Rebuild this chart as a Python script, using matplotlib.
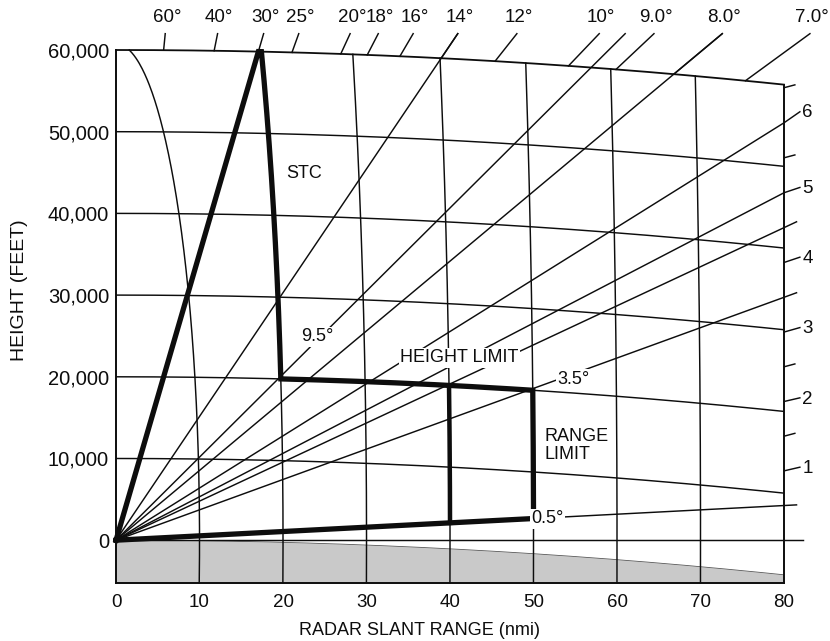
import numpy as np
import matplotlib.pyplot as plt

# ============================================
# DATA
# ============================================

NMI_FT = 6076.0                 # feet per nautical mile
EARTH_DROP = 0.6624             # ft per nmi^2 (4/3 earth curvature)

height_levels = [10000, 20000, 30000, 40000, 50000]
top_height = 60000
range_rings = [10, 20, 30, 40, 50, 60, 70]
max_range = 80

x_ticks = [0, 10, 20, 30, 40, 50, 60, 70, 80]
y_ticks = [0, 10000, 20000, 30000, 40000, 50000, 60000]
y_tick_labels = ["0", "10,000", "20,000", "30,000", "40,000", "50,000", "60,000"]

# elevation lines drawn from the radar
beam_angles = [0.0, 0.5, 3.5, 4.5, 5.0, 6.0, 8.0, 9.5, 14.0]

# elevation marks on the 60,000 ft curve
top_angles = [60, 40, 30, 25, 20, 18, 16, 14, 12, 10, 9, 8, 7]
top_labels = ["60°", "40°", "30°", "25°", "20°", "18°", "16°", "14°",
              "12°", "10°", "9.0°", "8.0°", "7.0°"]

# elevation marks on the 80 nmi edge
right_angles = [1, 2, 3, 4, 5, 6]
right_minor = [1.5, 2.5, 5.5, 6.5]

# coverage boundary
stc_angle = 30
stc_range = 20
height_limit = 20000
inner_range = 40
range_limit = 50
floor_angle = 0.5

# ============================================
# GEOMETRY HELPERS
# ============================================


def height_curve(x, h):
    return h - EARTH_DROP * x ** 2


def beam_y(x, ang):
    return x * NMI_FT * np.tan(np.radians(ang))


def beam_hits_height(ang, h):
    b = NMI_FT * np.tan(np.radians(ang))
    return (-b + np.sqrt(b * b + 4 * EARTH_DROP * h)) / (2 * EARTH_DROP)


def ring_hits_height(r, h):
    x = float(r)
    for _ in range(50):
        y = height_curve(x, h)
        x = np.sqrt(r ** 2 - (y / NMI_FT) ** 2)
    return x, height_curve(x, h)


def ring_points(r, y0, y1, n=200):
    ys = np.linspace(y0, y1, n)
    xs = np.sqrt(r ** 2 - (ys / NMI_FT) ** 2)
    return xs, ys


# ============================================
# FIGURE
# ============================================

plt.rcParams["font.family"] = ["Liberation Sans", "DejaVu Sans"]

fig = plt.figure(figsize=(8.3, 6.41), dpi=100)
ax = fig.add_axes([0.1398, 0.091, 0.8048, 0.831])

Y_LO = -5200
ax.set_xlim(0, max_range)
ax.set_ylim(Y_LO, top_height)

THIN = 1.05
THICK = 3.8
INK = "#0d0d0d"

# ground shading
xg = np.linspace(0, max_range, 300)
ground = -EARTH_DROP * xg ** 2
ax.fill_between(xg, Y_LO, ground, color="#c9c9c9", lw=0, zorder=1)
ax.plot(xg, ground, color="#555555", lw=0.6, zorder=2)

# constant height curves
xs = np.linspace(0, max_range, 300)
for h in height_levels:
    ax.plot(xs, height_curve(xs, h), color=INK, lw=THIN, zorder=3)
ax.plot(xs, height_curve(xs, top_height), color=INK, lw=1.3, zorder=3,
        clip_on=False)

# slant range rings
for r in range_rings:
    _, ytop = ring_hits_height(r, top_height)
    rx, ry = ring_points(r, Y_LO, ytop)
    ax.plot(rx, ry, color=INK, lw=THIN, zorder=3, clip_on=False)

# right edge (80 nmi)
ax.plot([max_range, max_range], [Y_LO, height_curve(max_range, top_height)],
        color=INK, lw=1.4, zorder=3, clip_on=False)

# elevation lines
LEADER_TOP = 62000
for ang in beam_angles:
    if ang == 0:
        x_end = 82.3
    elif ang < 4.8:
        x_end = 81.5
    else:
        x_end = min(max_range, LEADER_TOP / (NMI_FT * np.tan(np.radians(ang))))
    xl = np.array([0, x_end])
    ax.plot(xl, beam_y(xl, ang), color=INK, lw=THIN, zorder=3, clip_on=False)

# top elevation marks with labels
for ang, lab in zip(top_angles, top_labels):
    x0 = beam_hits_height(ang, top_height)
    x1 = LEADER_TOP / (NMI_FT * np.tan(np.radians(ang)))
    ax.plot([x0, x1], [beam_y(x0, ang), LEADER_TOP], color=INK, lw=THIN,
            zorder=3, clip_on=False)
    ax.text(x1 + 0.2, 64000, lab, ha="center", va="center", fontsize=13.5,
            color=INK, clip_on=False)

# right elevation marks
label_lift = [300, 300, 400, 500, 500, 1200]
for ang, lift in zip(right_angles, label_lift):
    y0 = beam_y(max_range, ang)
    ax.plot([max_range, 81.9], [y0, y0 + lift + 150], color=INK, lw=THIN,
            clip_on=False, zorder=3)
    ax.text(82.2, y0 + lift, str(ang), ha="left", va="center", fontsize=13.5,
            color=INK, clip_on=False)
for ang in right_minor:
    y0 = beam_y(max_range, ang)
    ax.plot([max_range, 81.3], [y0, y0 + 350], color=INK, lw=THIN,
            clip_on=False, zorder=3)

# ============================================
# COVERAGE BOUNDARY (thick)
# ============================================

x30 = beam_hits_height(stc_angle, top_height)
xa_top, ya_top = ring_hits_height(stc_range, top_height)
xa, ya = ring_hits_height(stc_range, height_limit)
xb, yb = ring_hits_height(range_limit, height_limit)
y_floor = range_limit * np.sin(np.radians(floor_angle)) * NMI_FT

arc1x, arc1y = ring_points(stc_range, ya_top, ya)
hx = np.linspace(xa, xb, 100)
arc2x, arc2y = ring_points(range_limit, yb, y_floor)

bx = np.concatenate([[0, x30], arc1x, hx, arc2x, [0]])
by = np.concatenate([[0, beam_y(x30, stc_angle)], arc1y,
                     height_curve(hx, height_limit), arc2y, [0]])
ax.plot(bx, by, color=INK, lw=THICK, zorder=5, solid_joinstyle="miter",
        clip_on=False)

xc, yc = ring_hits_height(inner_range, height_limit)
y_in = inner_range * np.sin(np.radians(floor_angle)) * NMI_FT
arc3x, arc3y = ring_points(inner_range, yc, y_in)
ax.plot(arc3x, arc3y, color=INK, lw=THICK * 0.85, zorder=5)

# ============================================
# ANNOTATIONS
# ============================================

box = dict(facecolor="white", edgecolor="none", pad=1.0)
ax.text(20.4, 44900, "STC", ha="left", va="center", fontsize=13,
        color=INK, zorder=6)
ax.text(24.1, 24900, "9.5°", ha="center", va="center", fontsize=13,
        color=INK, bbox=box, zorder=6)
ax.text(41.1, 22300, "HEIGHT LIMIT", ha="center", va="center", fontsize=13,
        color=INK, bbox=box, zorder=6)
ax.text(52.9, 19700, "3.5°", ha="left", va="center", fontsize=13,
        color=INK, bbox=box, zorder=6)
ax.text(51.3, 11600, "RANGE\nLIMIT", ha="left", va="center", fontsize=13,
        color=INK, linespacing=1.1, bbox=box, zorder=6)
ax.text(51.7, 2600, "0.5°", ha="center", va="center", fontsize=13,
        color=INK, bbox=box, zorder=6)

# ============================================
# AXES STYLE
# ============================================

ax.spines["top"].set_visible(False)
ax.spines["right"].set_visible(False)
ax.spines["left"].set_linewidth(1.4)
ax.spines["bottom"].set_linewidth(1.4)
ax.spines["left"].set_color(INK)
ax.spines["bottom"].set_color(INK)

ax.set_xticks(x_ticks)
ax.set_xticklabels([str(v) for v in x_ticks])
ax.set_yticks(y_ticks)
ax.set_yticklabels(y_tick_labels)
ax.tick_params(axis="x", length=0, labelsize=13.5, colors=INK, pad=8)
ax.tick_params(axis="y", length=0, labelsize=14.5, colors=INK, pad=5)

fig.text(0.024, 0.548, "HEIGHT (FEET)", rotation=90, ha="center",
         va="center", fontsize=14, color=INK)
fig.text(0.506, 0.017, "RADAR SLANT RANGE (nmi)", ha="center",
         va="center", fontsize=13, color=INK)

fig.savefig("out.png", dpi=100)
